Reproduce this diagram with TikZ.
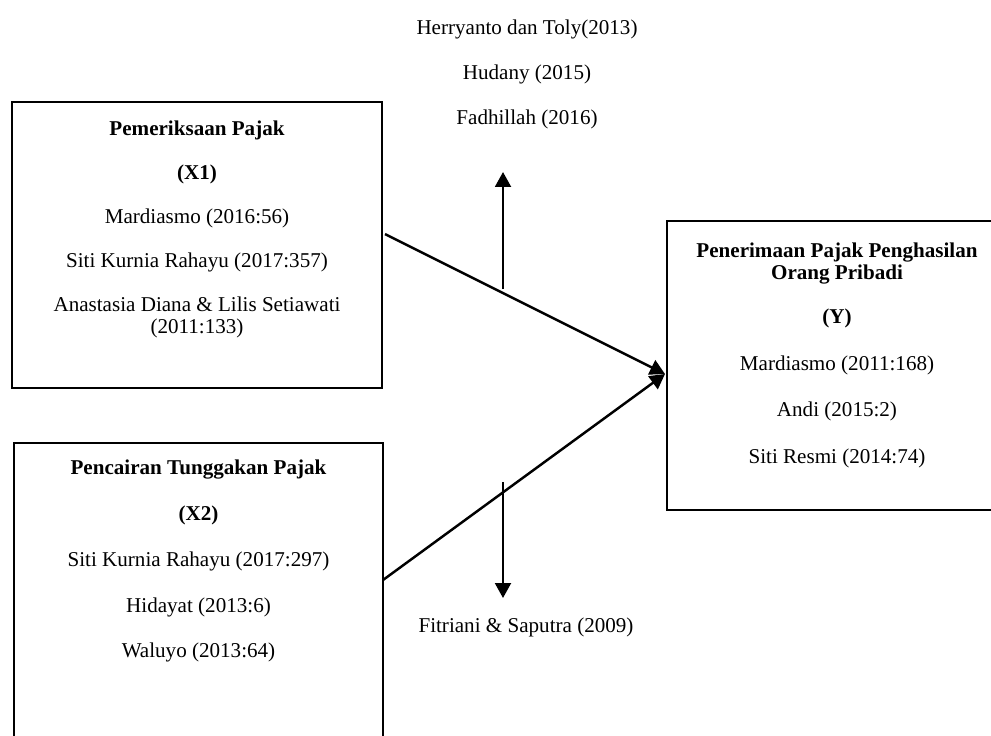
\documentclass[tikz,border=0pt]{standalone}
\usepackage{fontspec}
\setmainfont{Liberation Serif}
\usetikzlibrary{arrows.meta}
\tikzstyle{box} = [draw, line width=1.1pt, inner sep=0pt]
\tikzstyle{txt} = [align=center, inner sep=0pt, font=\fontsize{12}{12.5}\selectfont]
\tikzstyle{arrow} = [line width=1.4pt, -{Triangle[length=8.5pt, width=9pt]}]

\begin{document}
\begin{tikzpicture}[x=0.02cm, y=-0.02cm]
	\useasboundingbox (0,0) rectangle (991,735);
	\clip (0,0) rectangle (991,735);
	\node[box, minimum width=7.4cm, minimum height=5.72cm](pemeriksaan) at (197,245){};
	\node[box, minimum width=7.38cm, minimum height=6.34cm](pencairan) at (198.5,601.5){};
	\node[box, minimum width=6.8cm, minimum height=5.78cm](penerimaan) at (837,365.5){};
	\node[txt, anchor=north](pemeriksaantxt) at (197,121){
		\textbf{Pemeriksaan Pajak}\\[12.5pt]
		\textbf{(X1)}\\[12.5pt]
		Mardiasmo (2016:56)\\[12.5pt]
		Siti Kurnia Rahayu (2017:357)\\[12.5pt]
		Anastasia Diana \& Lilis Setiawati\\
		(2011:133)};
	\node[txt, anchor=north](pencairantxt) at (198.5,460){
		\textbf{Pencairan Tunggakan Pajak}\\[13.5pt]
		\textbf{(X2)}\\[13.5pt]
		Siti Kurnia Rahayu (2017:297)\\[13.5pt]
		Hidayat (2013:6)\\[13.5pt]
		Waluyo (2013:64)};
	\node[txt, anchor=north](penerimaantxt) at (837,243){
		\textbf{Penerimaan Pajak Penghasilan}\\
		\textbf{Orang Pribadi}\\[12.5pt]
		\textbf{(Y)}\\[14pt]
		Mardiasmo (2011:168)\\[14pt]
		Andi (2015:2)\\[14pt]
		Siti Resmi (2014:74)};
	\node[txt, anchor=north](atas) at (527,20){
		Herryanto dan Toly(2013)\\[13pt]
		Hudany (2015)\\[13pt]
		Fadhillah (2016)};
	\node[txt](bawah) at (526,627){Fitriani \& Saputra (2009)};
	\coordinate (x1out) at (385,234);
	\coordinate (x2out) at (383,580);
	\coordinate (temu) at (665,374);
	\coordinate (naikdari) at (503,289);
	\coordinate (naikke) at (503,172);
	\coordinate (turundari) at (503,482);
	\coordinate (turunke) at (503,598);
	\draw[arrow](x1out) -- (temu);
	\draw[arrow](x2out) -- (temu);
	\draw[arrow](naikdari) -- (naikke);
	\draw[arrow](turundari) -- (turunke);
\end{tikzpicture}
\end{document}
